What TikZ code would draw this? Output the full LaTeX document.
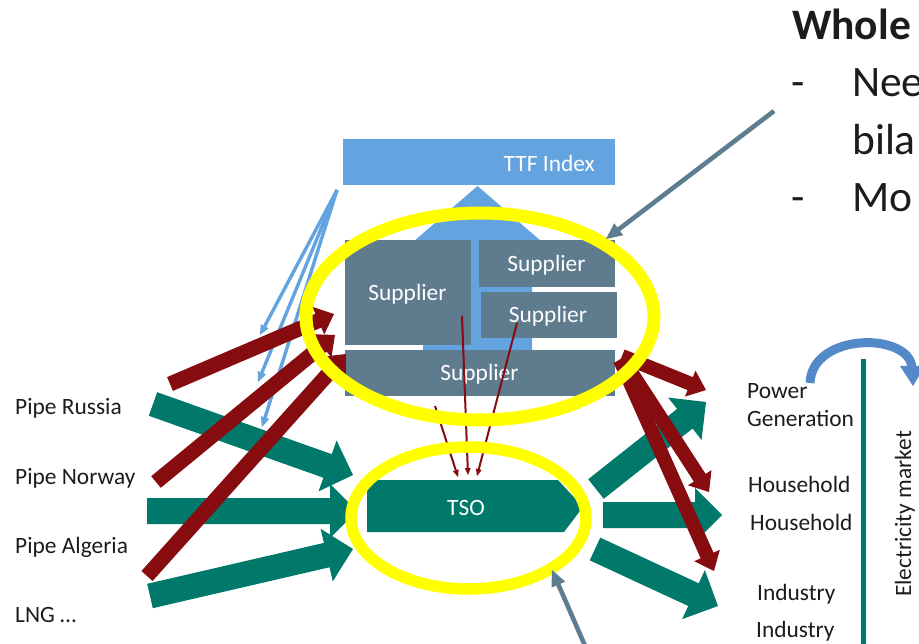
\documentclass[tikz,border=0pt]{standalone}
\usepackage{fontspec}
\setmainfont{Carlito}
\usetikzlibrary{calc}
\definecolor{ttfblue}{HTML}{62A3E0}
\definecolor{supp}{HTML}{5F7B8E}
\definecolor{tsogreen}{HTML}{00796B}
\definecolor{darkred}{HTML}{860C10}
\definecolor{ptr}{HTML}{5F7D90}
\definecolor{yel}{HTML}{FFFF00}
\definecolor{eblue}{HTML}{5489C9}
\definecolor{txt}{HTML}{1C1C1C}
% block arrow: #1 colour, #2 tail, #3 tip, #4 shaft half width, #5 head half width, #6 head length
\newcommand\blockarrow[6]{%
  \path ($(#3)!#6!(#2)$) coordinate (bah);
  \fill[#1] ($(#2)!#4!90:(#3)$) -- ($(bah)!#4!90:(#3)$) -- ($(bah)!#5!90:(#3)$) -- (#3)
    -- ($(bah)!#5!-90:(#3)$) -- ($(bah)!#4!-90:(#3)$) -- ($(#2)!#4!-90:(#3)$) -- cycle;}
\begin{document}
\begin{tikzpicture}[x=1pt,y=-1pt,
  lbl/.style={font=\fontsize{23.4}{28}\selectfont, text=txt, anchor=base west, inner sep=0pt},
  big/.style={font=\fontsize{43.5}{52}\selectfont, text=txt, anchor=base west, inner sep=0pt},
  boxtxt/.style={font=\fontsize{23.4}{28}\selectfont, text=white, anchor=base, inner sep=0pt},
  suppbox/.style={fill=supp, draw=none, inner sep=0pt},
  ttfbox/.style={fill=ttfblue, draw=none, inner sep=0pt},
  ring/.style={yel, line width=13pt},
]
\useasboundingbox (0,0) rectangle (919,644);
\clip (0,0) rectangle (919,644);

% ---------- TTF index and its up arrow ----------
\node[ttfbox, minimum width=272pt, minimum height=46pt] (ttf) at (479,162) {};
\fill[ttfblue] (477.5,186) -- (557,255) -- (532,255) -- (532,352) -- (423,352) -- (423,255) -- (398,255) -- cycle;

% ---------- suppliers ----------
\node[suppbox, minimum width=126pt, minimum height=105pt] (s1) at (408,292.5) {};
\node[suppbox, minimum width=136pt, minimum height=47pt] (s2) at (547,263.5) {};
\node[suppbox, minimum width=136pt, minimum height=46pt] (s3) at (549,315) {};
\node[suppbox, minimum width=270pt, minimum height=46pt] (s4) at (480,373) {};

% ---------- coordinates of connectors ----------
\coordinate (gRa) at (153,404); \coordinate (gRb) at (353,475);
\coordinate (gNa) at (147,511); \coordinate (gNb) at (357,511);
\coordinate (gAa) at (150,596); \coordinate (gAb) at (353,549);
\coordinate (gPa) at (596,489); \coordinate (gPb) at (706,402);
\coordinate (gHa) at (603,515); \coordinate (gHb) at (722,515);
\coordinate (gIa) at (595,549); \coordinate (gIb) at (718,606);

\coordinate (r1a) at (170,384); \coordinate (r1b) at (334,314);
\coordinate (r2a) at (156,482); \coordinate (r2b) at (335,335);
\coordinate (r3a) at (147,576); \coordinate (r3b) at (346,354);
\coordinate (rPa) at (622,356); \coordinate (rPb) at (706,390);
\coordinate (rHa) at (622,358); \coordinate (rHb) at (709,492);
\coordinate (rIa) at (620,360); \coordinate (rIb) at (714,571);

\coordinate (bT) at (337,190);
\coordinate (b1) at (260,335); \coordinate (b2) at (258,382); \coordinate (b3) at (262,427);

\coordinate (t1a) at (462,316); \coordinate (t1b) at (468,475);
\coordinate (t2a) at (517,323); \coordinate (t2b) at (477,476);
\coordinate (t3a) at (435,406); \coordinate (t3b) at (458,477);

\coordinate (p1a) at (774,111); \coordinate (p1b) at (606,239);
\coordinate (p2a) at (586,648); \coordinate (p2b) at (552,570);

% ---------- green flows ----------
\blockarrow{tsogreen}{gRa}{gRb}{12.5pt}{27pt}{27pt}
\blockarrow{tsogreen}{gNa}{gNb}{13pt}{27pt}{27pt}
\blockarrow{tsogreen}{gAa}{gAb}{12.5pt}{27pt}{27pt}
\blockarrow{tsogreen}{gPa}{gPb}{12.5pt}{27pt}{27pt}
\blockarrow{tsogreen}{gHa}{gHb}{13pt}{27pt}{27pt}
\blockarrow{tsogreen}{gIa}{gIb}{12.5pt}{27pt}{27pt}

% ---------- TSO ----------
\fill[tsogreen] (367,480) -- (558,480) -- (583,507) -- (564,532) -- (367,532) -- cycle;

% ---------- blue index arrows ----------
\blockarrow{ttfblue}{bT}{b1}{1.7pt}{4.5pt}{10pt}
\blockarrow{ttfblue}{bT}{b2}{1.7pt}{4.5pt}{10pt}
\blockarrow{ttfblue}{bT}{b3}{1.7pt}{4.5pt}{10pt}

% ---------- red contract arrows ----------
\blockarrow{darkred}{r1a}{r1b}{7.5pt}{15pt}{17pt}
\blockarrow{darkred}{r2a}{r2b}{7.5pt}{15pt}{17pt}
\blockarrow{darkred}{r3a}{r3b}{7.5pt}{15pt}{17pt}
\blockarrow{darkred}{rPa}{rPb}{7pt}{14pt}{17pt}
\blockarrow{darkred}{rHa}{rHb}{7pt}{14pt}{17pt}
\blockarrow{darkred}{rIa}{rIb}{7pt}{14pt}{17pt}

% ---------- box texts ----------
\node[boxtxt, anchor=base east] (ttftxt) at (595,172) {TTF Index};
\node[boxtxt] (s1t) at (407.5,301) {Supplier};
\node[boxtxt] (s2t) at (546.5,271.5) {Supplier};
\node[boxtxt] (s3t) at (548,323) {Supplier};
\node[boxtxt] (s4t) at (479.5,381) {Supplier};
\node[boxtxt] (tso) at (466,515) {TSO};

% ---------- thin red arrows ----------
\blockarrow{darkred}{t1a}{t1b}{1pt}{3pt}{7pt}
\blockarrow{darkred}{t2a}{t2b}{1pt}{3pt}{7pt}
\blockarrow{darkred}{t3a}{t3b}{1pt}{3pt}{7pt}

% ---------- yellow rings ----------
\draw[ring] (480,316.5) ellipse [x radius=174pt, y radius=103.5pt];
\draw[ring, line width=11.5pt] (468.5,518) ellipse [x radius=117.5pt, y radius=71pt];

% ---------- pointer arrows ----------
\blockarrow{ptr}{p1a}{p1b}{2.3pt}{7.5pt}{16pt}
\blockarrow{ptr}{p2a}{p2b}{2.3pt}{7.5pt}{16pt}

% ---------- left labels ----------
\node[lbl] (lr) at (15,414) {Pipe Russia};
\node[lbl] (ln) at (15,484) {Pipe Norway};
\node[lbl] (la) at (15,553) {Pipe Algeria};
\node[lbl] (ll) at (15,622) {LNG …};

% ---------- right labels ----------
\node[lbl] (c1) at (747,399) {Power};
\node[lbl] (c2) at (747,427) {Generation};
\node[lbl] (c3) at (748,492) {Household};
\node[lbl] (c4) at (750,530) {Household};
\node[lbl] (c5) at (757,600) {Industry};
\node[lbl] (c6) at (756,637) {Industry};

% ---------- electricity market ----------
\coordinate (vl1) at (863,359); \coordinate (vl2) at (863,650);
\draw[tsogreen, line width=5pt] (vl1) -- (vl2);
\coordinate (cvA) at (810,383); \coordinate (cvB) at (912,368);
\draw[eblue, line width=9pt] (cvA) .. controls (812,332) and (910,332) .. (cvB);
\fill[eblue] (900,366) -- (925,366) -- (913,386) -- cycle;
\node[font=\fontsize{23.4}{28}\selectfont, text=txt, rotate=90, inner sep=0pt] (em) at (905,514) {Electricity market};

% ---------- heading text ----------
\node[big, font=\bfseries\fontsize{43.5}{52}\selectfont] (h0) at (792,40) {Whole};
\node[big] (d1) at (791,97) {-};
\node[big] (h1) at (852,97) {Nee};
\node[big] (h2) at (852,155) {bila};
\node[big] (d2) at (791,212) {-};
\node[big] (h3) at (852,212) {Mo};
\end{tikzpicture}
\end{document}
